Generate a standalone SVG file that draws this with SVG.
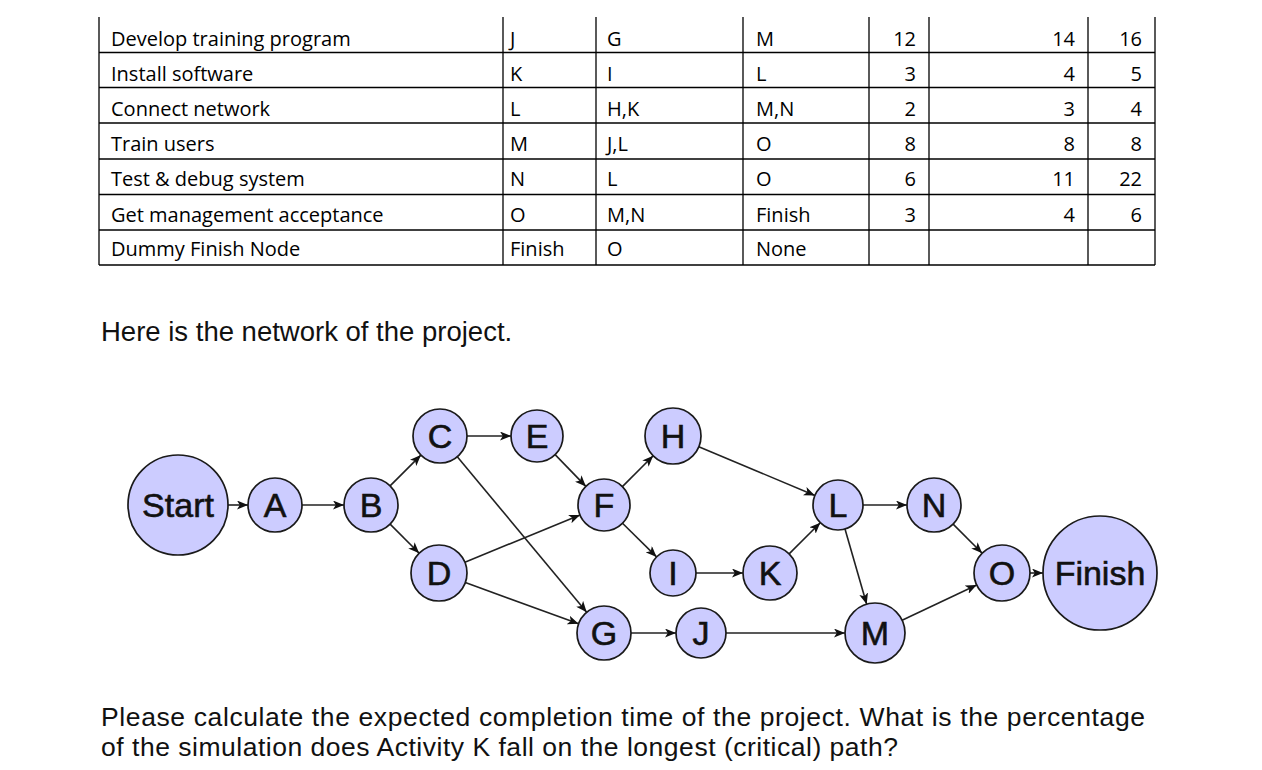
<svg xmlns="http://www.w3.org/2000/svg" width="1262" height="770" viewBox="0 0 1262 770">
<defs>
<marker id="arr" viewBox="0 0 11 9" refX="11" refY="4.5" markerWidth="11" markerHeight="9" markerUnits="userSpaceOnUse" orient="auto">
<path d="M0,0 L11,4.5 L0,9 L2.8,4.5 z" fill="#111"/>
</marker>
<style>
.tl{stroke:#000;stroke-width:1.3;fill:none}
.tt{font-family:"Open Sans","Liberation Sans",sans-serif;font-size:20px;fill:#000}
.num{text-anchor:end}
.body{font-family:"Liberation Sans",Arial,sans-serif;fill:#111}
.nd circle{fill:#ccccff;stroke:#1a1a1a;stroke-width:1.7}
.nd text{font-family:"Liberation Sans",Arial,sans-serif;font-size:34px;fill:#111;stroke:#111;stroke-width:0.6;text-anchor:middle}
.ed line{stroke:#222;stroke-width:1.6;marker-end:url(#arr)}
</style>
</defs>
<rect width="1262" height="770" fill="#fff"/>
<g id="table">
<g class="tl">
<line x1="99" y1="52.5" x2="1155" y2="52.5"/>
<line x1="99" y1="87.5" x2="1155" y2="87.5"/>
<line x1="99" y1="123" x2="1155" y2="123"/>
<line x1="99" y1="159" x2="1155" y2="159"/>
<line x1="99" y1="194.5" x2="1155" y2="194.5"/>
<line x1="99" y1="230" x2="1155" y2="230"/>
<line x1="99" y1="265" x2="1155" y2="265"/>
<line x1="99" y1="17" x2="99" y2="265"/>
<line x1="503" y1="17" x2="503" y2="265"/>
<line x1="596" y1="17" x2="596" y2="265"/>
<line x1="743" y1="17" x2="743" y2="265"/>
<line x1="869" y1="17" x2="869" y2="265"/>
<line x1="929" y1="17" x2="929" y2="265"/>
<line x1="1088" y1="17" x2="1088" y2="265"/>
<line x1="1155" y1="17" x2="1155" y2="265"/>
</g>
<g class="tt">
<text x="111" y="46">Develop training program</text>
<text x="510" y="46">J</text><text x="607" y="46">G</text><text x="756" y="46">M</text>
<text class="num" x="916" y="46">12</text><text class="num" x="1075" y="46">14</text><text class="num" x="1142" y="46">16</text>
<text x="111" y="81">Install software</text>
<text x="510" y="81">K</text><text x="607" y="81">I</text><text x="756" y="81">L</text>
<text class="num" x="916" y="81">3</text><text class="num" x="1075" y="81">4</text><text class="num" x="1142" y="81">5</text>
<text x="111" y="116">Connect network</text>
<text x="510" y="116">L</text><text x="607" y="116">H,K</text><text x="756" y="116">M,N</text>
<text class="num" x="916" y="116">2</text><text class="num" x="1075" y="116">3</text><text class="num" x="1142" y="116">4</text>
<text x="111" y="151">Train users</text>
<text x="510" y="151">M</text><text x="607" y="151">J,L</text><text x="756" y="151">O</text>
<text class="num" x="916" y="151">8</text><text class="num" x="1075" y="151">8</text><text class="num" x="1142" y="151">8</text>
<text x="111" y="186">Test &amp; debug system</text>
<text x="510" y="186">N</text><text x="607" y="186">L</text><text x="756" y="186">O</text>
<text class="num" x="916" y="186">6</text><text class="num" x="1075" y="186">11</text><text class="num" x="1142" y="186">22</text>
<text x="111" y="222">Get management acceptance</text>
<text x="510" y="222">O</text><text x="607" y="222">M,N</text><text x="756" y="222">Finish</text>
<text class="num" x="916" y="222">3</text><text class="num" x="1075" y="222">4</text><text class="num" x="1142" y="222">6</text>
<text x="111" y="256">Dummy Finish Node</text>
<text x="510" y="256">Finish</text><text x="607" y="256">O</text><text x="756" y="256">None</text>
</g>
</g>
<text class="body" x="101" y="341" font-size="27.5">Here is the network of the project.</text>
<g id="connectors" class="ed">
<line x1="228" y1="505" x2="248" y2="505"/>
<line x1="302" y1="505" x2="344" y2="505"/>
<line x1="390.1" y1="485.9" x2="420.9" y2="455.1"/>
<line x1="390.1" y1="524.1" x2="419.2" y2="553.2"/>
<line x1="467" y1="436" x2="511" y2="436"/>
<line x1="457.3" y1="456.8" x2="586.7" y2="612.2"/>
<line x1="464.9" y1="562.3" x2="580" y2="514.9"/>
<line x1="465.3" y1="582.6" x2="578.6" y2="623.8"/>
<line x1="555.1" y1="454.6" x2="585.9" y2="486.4"/>
<line x1="622.4" y1="486.6" x2="653.2" y2="455.8"/>
<line x1="622.5" y1="523.3" x2="656.6" y2="556.9"/>
<line x1="698.8" y1="446.8" x2="814.9" y2="495.4"/>
<line x1="696" y1="573" x2="743" y2="573"/>
<line x1="789.1" y1="553.9" x2="820.3" y2="522.7"/>
<line x1="863" y1="505" x2="907" y2="505"/>
<line x1="845" y1="529" x2="866.7" y2="604.2"/>
<line x1="631" y1="633" x2="676" y2="633"/>
<line x1="726" y1="633" x2="845" y2="633"/>
<line x1="953.1" y1="524.1" x2="982.2" y2="553.2"/>
<line x1="902.1" y1="620.2" x2="976.7" y2="585"/>
<line x1="1030" y1="573" x2="1043" y2="573"/>
</g>
<g id="node-start" class="nd"><circle cx="178" cy="505" r="50"/><text x="178" y="517">Start</text></g>
<g id="node-a" class="nd"><circle cx="275" cy="505" r="27"/><text x="275" y="517">A</text></g>
<g id="node-b" class="nd"><circle cx="371" cy="505" r="27"/><text x="371" y="517">B</text></g>
<g id="node-c" class="nd"><circle cx="440" cy="436" r="27"/><text x="440" y="448">C</text></g>
<g id="node-d" class="nd"><circle cx="439" cy="573" r="28"/><text x="439" y="585">D</text></g>
<g id="node-e" class="nd"><circle cx="537" cy="436" r="26"/><text x="537" y="448">E</text></g>
<g id="node-f" class="nd"><circle cx="604" cy="505" r="26"/><text x="604" y="517">F</text></g>
<g id="node-h" class="nd"><circle cx="673" cy="436" r="28"/><text x="673" y="448">H</text></g>
<g id="node-g" class="nd"><circle cx="604" cy="633" r="27"/><text x="604" y="645">G</text></g>
<g id="node-i" class="nd"><circle cx="673" cy="573" r="23"/><text x="673" y="585">I</text></g>
<g id="node-j" class="nd"><circle cx="701" cy="633" r="25"/><text x="701" y="645">J</text></g>
<g id="node-k" class="nd"><circle cx="770" cy="573" r="27"/><text x="770" y="585">K</text></g>
<g id="node-l" class="nd"><circle cx="838" cy="505" r="25"/><text x="838" y="517">L</text></g>
<g id="node-n" class="nd"><circle cx="934" cy="505" r="27"/><text x="934" y="517">N</text></g>
<g id="node-m" class="nd"><circle cx="875" cy="633" r="30"/><text x="875" y="645">M</text></g>
<g id="node-o" class="nd"><circle cx="1002" cy="573" r="28"/><text x="1002" y="585">O</text></g>
<g id="node-finish" class="nd"><circle cx="1100" cy="573" r="57"/><text x="1100" y="585">Finish</text></g>
<text class="body" x="101" y="726" font-size="26.5" textLength="1044" lengthAdjust="spacing">Please calculate the expected completion time of the project. What is the percentage</text>
<text class="body" x="101" y="756" font-size="26.5" textLength="797" lengthAdjust="spacing">of the simulation does Activity K fall on the longest (critical) path?</text>
</svg>
